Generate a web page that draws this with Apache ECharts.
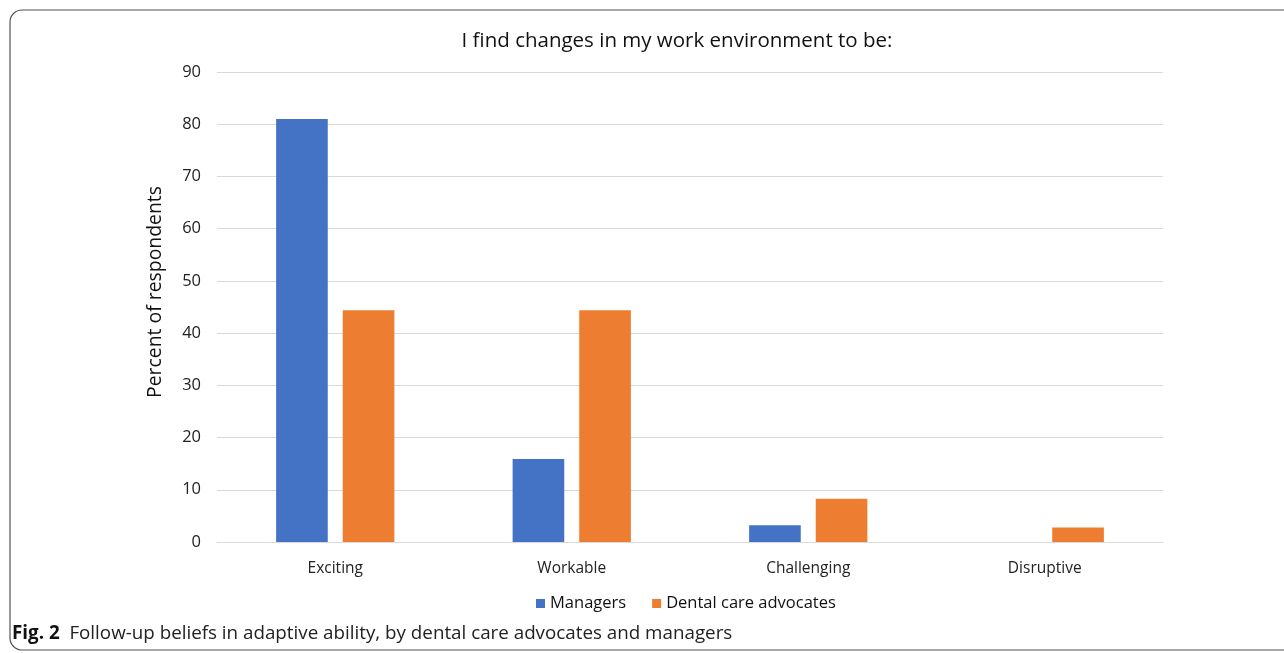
<!DOCTYPE html>
<html><head><meta charset="utf-8">
<script src="https://cdn.jsdelivr.net/npm/echarts@6/dist/echarts.min.js"></script>
<style>html,body{margin:0;padding:0;background:#fff}#c{width:1284px;height:653px}</style>
</head><body><div id="c"></div>
<script>
const categories = ['Exciting', 'Workable', 'Challenging', 'Disruptive'];
const managers = [81.0, 15.9, 3.2, 0];
const advocates = [44.4, 44.4, 8.3, 2.8];
const yTicks = {min: 0, max: 90, interval: 10};
const yAxisTitle = 'Percent of respondents';

const chart = echarts.init(document.getElementById('c'));
const font = 'Open Sans';
chart.setOption({
  animation: false,
  backgroundColor: '#fff',
  title: {text: 'I find changes in my work environment to be:', left: 672, top: 26, textAlign: 'center',
    textStyle: {fontFamily: font, fontSize: 20.5, fontWeight: 'normal', color: '#111'}},
  grid: {left: 217, right: 121, top: 72, bottom: 111},
  legend: {bottom: 36, left: 531, itemWidth: 9, itemHeight: 9, itemGap: 26, icon: 'rect',
    textStyle: {fontFamily: font, fontSize: 16.5, color: '#111'}},
  xAxis: {type: 'category', data: categories,
    axisLine: {lineStyle: {color: '#d9d9d9'}}, axisTick: {show: false},
    axisLabel: {fontFamily: font, fontSize: 15.5, color: '#222', margin: 19}},
  yAxis: {type: 'value', min: yTicks.min, max: yTicks.max, interval: yTicks.interval,
    axisLabel: {fontFamily: font, fontSize: 16.5, color: '#222', margin: 16},
    splitLine: {lineStyle: {color: '#d9d9d9'}}},
  series: [
    {name: 'Managers', type: 'bar', data: managers, barGap: '29%', barCategoryGap: '50%',
      itemStyle: {color: '#4472c4'}},
    {name: 'Dental care advocates', type: 'bar', data: advocates,
      itemStyle: {color: '#ed7d31'}}
  ],
  graphic: [
    {type: 'rect', shape: {x: 10, y: 10, width: 1300, height: 640, r: 12},
      style: {fill: 'none', stroke: '#555', lineWidth: 1.2}, z: 100},
    {type: 'text', x: 155, y: 292, rotation: Math.PI / 2, style: {
      text: yAxisTitle, fontFamily: font, fontSize: 19.4, fill: '#111',
      align: 'center', verticalAlign: 'middle'}},
    {type: 'text', left: 12, top: 624, style: {
      text: '{b|Fig. 2}  Follow-up beliefs in adaptive ability, by dental care advocates and managers',
      rich: {b: {fontFamily: font, fontSize: 18.8, fontWeight: 'bold', fill: '#111'}},
      fontFamily: font, fontSize: 18.8, fill: '#222'}}
  ]
});
</script></body></html>
